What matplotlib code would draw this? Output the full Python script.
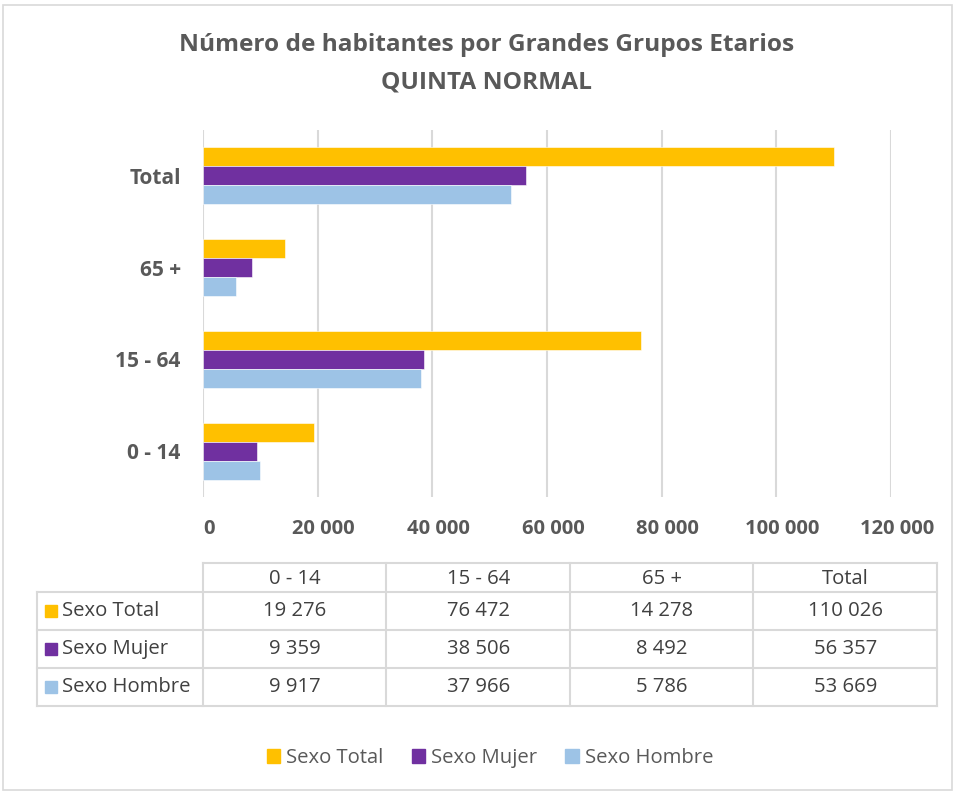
import matplotlib
matplotlib.use("Agg")
import matplotlib.pyplot as plt
import matplotlib.transforms as mtransforms
from matplotlib.patches import Rectangle

# Data
categories = ["0 - 14", "15 - 64", "65 +", "Total"]
series_names = ["Sexo Total", "Sexo Mujer", "Sexo Hombre"]
sexo_total = [19276, 76472, 14278, 110026]
sexo_mujer = [9359, 38506, 8492, 56357]
sexo_hombre = [9917, 37966, 5786, 53669]
x_ticks = [0, 20000, 40000, 60000, 80000, 100000, 120000]

colors = ["#FFC000", "#7030A0", "#9DC3E6"]
text_color = "#595959"
grid_color = "#D9D9D9"

plt.rcParams["font.family"] = ["Open Sans", "DejaVu Sans"]

W, H = 954, 793
fig = plt.figure(figsize=(W / 100, H / 100), dpi=100)
fig.patch.set_facecolor("white")


def fx(px):
    return px / W


def fy(py):
    return 1 - py / H


def fmt(v):
    return f"{v:,}".replace(",", " ")


# outer chart frame
fig.add_artist(Rectangle((fx(3), fy(790)), fx(949), 785 / H, transform=fig.transFigure,
                         fill=False, edgecolor="#D9D9D9", linewidth=1.2))

# title
fig.text(fx(487), fy(45), "Número de habitantes por Grandes Grupos Etarios", ha="center", va="center",
         fontsize=17.6, fontweight="bold", color=text_color)
fig.text(fx(487), fy(82), "QUINTA NORMAL", ha="center", va="center",
         fontsize=17.6, fontweight="bold", color=text_color)

# bar chart axes
left, right, top, bottom = 203, 891, 130, 497
ax = fig.add_axes([fx(left), fy(bottom), fx(right - left), (bottom - top) / H])
bh = 0.207
ypos = list(range(len(categories)))
values = [sexo_total, sexo_mujer, sexo_hombre]
offsets = [bh, 0, -bh]
for vals, off, c, name in zip(values, offsets, colors, series_names):
    ax.barh([y + off for y in ypos], vals, height=bh, color=c, label=name,
            edgecolor="white", linewidth=0.4, zorder=3)

ax.set_xlim(0, 120000)
ax.set_ylim(-0.5, len(categories) - 0.5)
ax.set_xticks(x_ticks)
ax.set_xticklabels([fmt(v) for v in x_ticks])
ax.set_yticks(ypos)
ax.set_yticklabels(categories)
ax.tick_params(axis="x", length=0, pad=16, labelsize=14.5, labelcolor=text_color)
ax.tick_params(axis="y", length=0, pad=16, labelsize=15, labelcolor=text_color)
shift = mtransforms.ScaledTranslation(6 / 100, 0, fig.dpi_scale_trans)
for lab in ax.get_xticklabels():
    lab.set_fontweight("bold")
    lab.set_transform(lab.get_transform() + shift)
for lab in ax.get_yticklabels():
    lab.set_fontweight("bold")
ax.grid(axis="x", color=grid_color, linewidth=1.5, zorder=0)
for s in ax.spines.values():
    s.set_visible(False)

# data table
tax = fig.add_axes([0, 0, 1, 1], zorder=-1)
tax.set_xlim(0, W)
tax.set_ylim(H, 0)
tax.axis("off")

col_edges = [203, 386.5, 570, 753.5, 937]
row_edges = [563, 592, 630, 668, 706]
tab_left = 37
lw = 1.5

# horizontal rules
tax.plot([col_edges[0], col_edges[-1]], [row_edges[0]] * 2, color=grid_color, lw=lw)
for r in row_edges[1:]:
    tax.plot([tab_left, col_edges[-1]], [r, r], color=grid_color, lw=lw)
# vertical rules
for c in col_edges:
    tax.plot([c, c], [row_edges[0], row_edges[-1]], color=grid_color, lw=lw)
tax.plot([tab_left, tab_left], [row_edges[1], row_edges[-1]], color=grid_color, lw=lw)

tcolor = "#404040"
tsize = 14.6
for j, cat in enumerate(categories):
    cx = (col_edges[j] + col_edges[j + 1]) / 2
    tax.text(cx, (row_edges[0] + row_edges[1]) / 2 + 1, cat, ha="center", va="center",
             fontsize=tsize, color=tcolor)
for i, (name, vals, c) in enumerate(zip(series_names, values, colors)):
    cy = (row_edges[i + 1] + row_edges[i + 2]) / 2
    tax.add_patch(Rectangle((45, cy - 6), 12, 12, color=c))
    tax.text(62, cy, name, ha="left", va="center", fontsize=tsize, color=tcolor)
    for j, v in enumerate(vals):
        cx = (col_edges[j] + col_edges[j + 1]) / 2
        tax.text(cx, cy, fmt(v), ha="center", va="center", fontsize=tsize, color=tcolor)

# legend
handles = [Rectangle((0, 0), 1, 1, color=c) for c in colors]
leg = fig.legend(handles, series_names, loc="center", bbox_to_anchor=(fx(490), fy(758)),
                 ncol=3, frameon=False, fontsize=14.6, handlelength=0.65, handleheight=0.65,
                 handletextpad=0.3, columnspacing=1.4, labelcolor=text_color)

fig.savefig("out.png", dpi=100, facecolor="white")
